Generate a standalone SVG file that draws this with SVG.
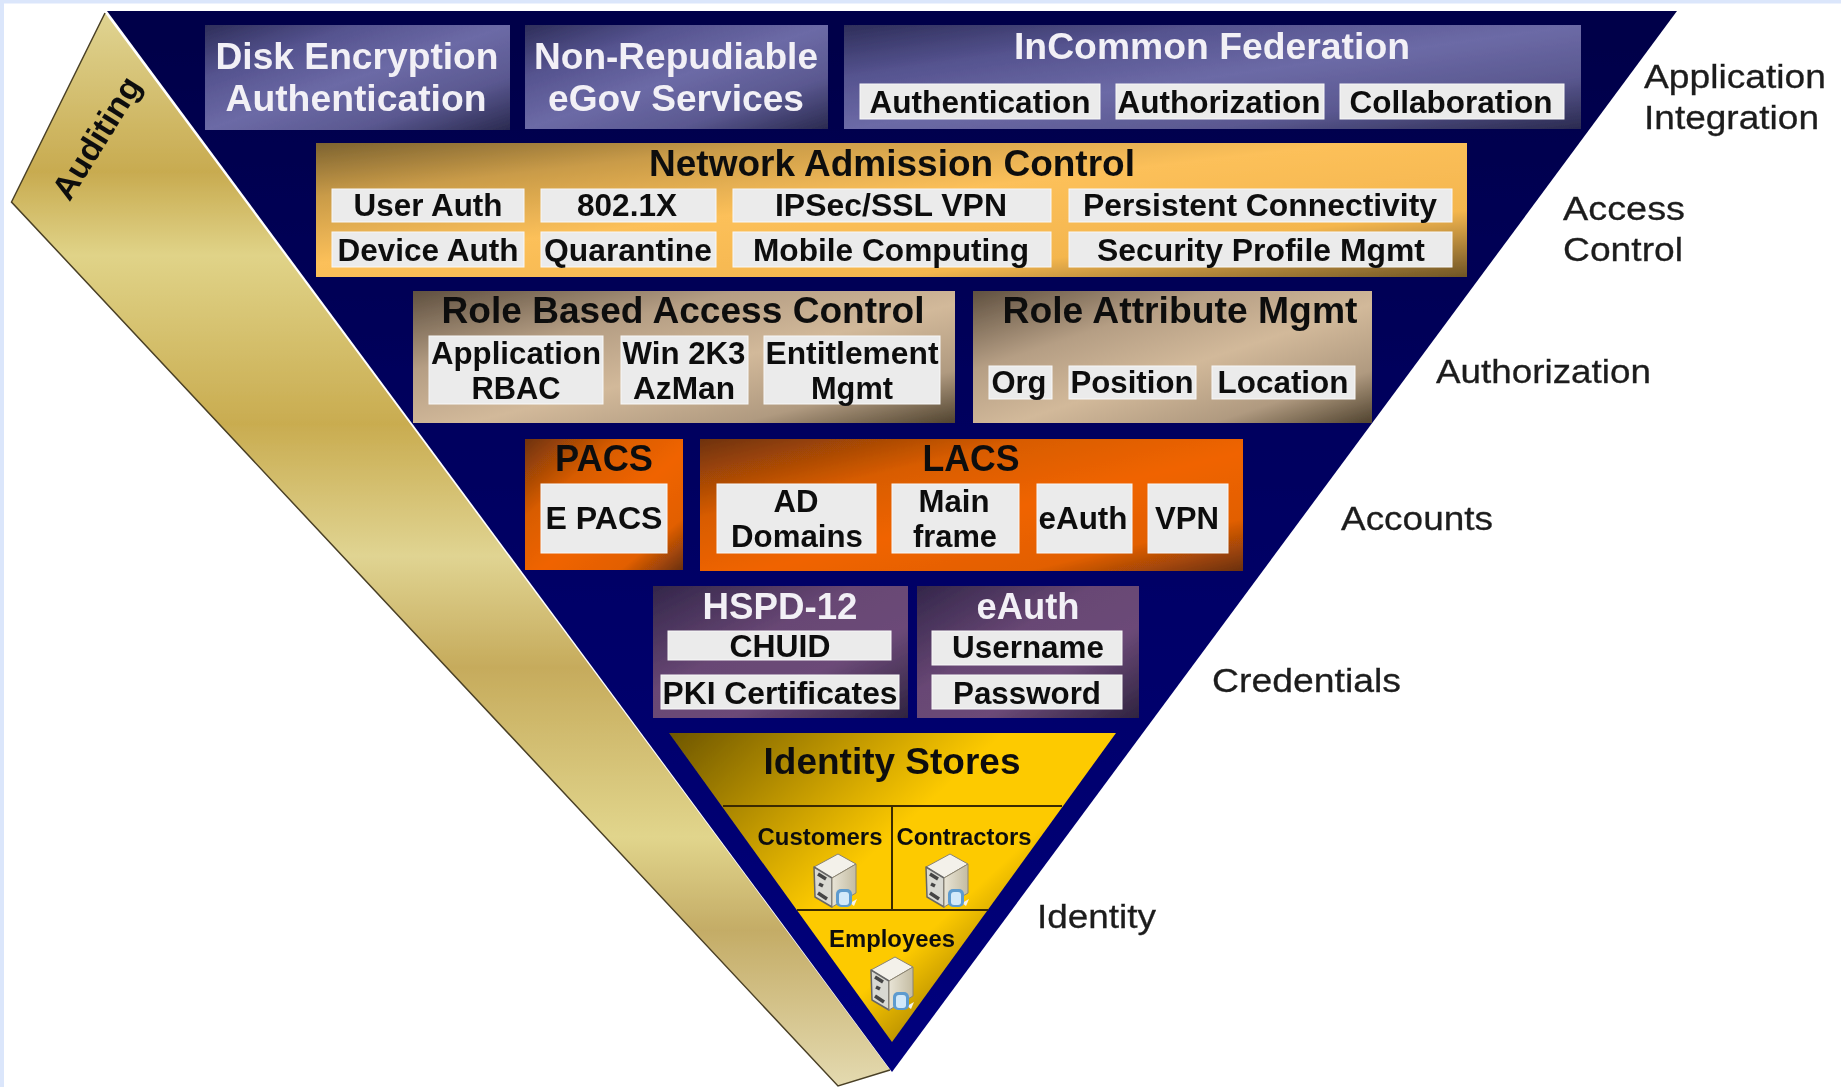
<svg xmlns="http://www.w3.org/2000/svg" width="1841" height="1087" viewBox="0 0 1841 1087">
<style>
text{font-family:"Liberation Sans",Arial,sans-serif;font-weight:700;text-anchor:middle;fill:#111}
.w{fill:#f2f0f6}
.h{font-size:36px}
.m{font-size:31px}
.f{font-size:23px}
.l{font-weight:400;font-size:34px;text-anchor:start;fill:#1c1c1c;stroke:#1c1c1c;stroke-width:.3px}
.s{fill:#ebebeb;stroke:#f8f8f8;stroke-width:1}
.rule{stroke:#3a2c00;stroke-width:2;fill:none}
</style>
<defs>
<linearGradient id="blue" x1="0" y1="0" x2="1" y2="1"><stop offset="0" stop-color="#2e2e5a"/><stop offset=".25" stop-color="#55538f"/><stop offset=".5" stop-color="#6c6aa6"/><stop offset=".75" stop-color="#5a5890"/><stop offset="1" stop-color="#2a2a50"/></linearGradient>
<linearGradient id="gold" x1="0" y1="0" x2="1" y2="1"><stop offset="0" stop-color="#7d6330"/><stop offset=".2" stop-color="#c99b48"/><stop offset=".45" stop-color="#fcc05a"/><stop offset=".75" stop-color="#f4b64e"/><stop offset="1" stop-color="#6f5526"/></linearGradient>
<linearGradient id="tan" x1="0" y1="0" x2="1" y2="1"><stop offset="0" stop-color="#5f5040"/><stop offset=".3" stop-color="#b59e84"/><stop offset=".55" stop-color="#d2b99a"/><stop offset=".8" stop-color="#b09a80"/><stop offset="1" stop-color="#50432f"/></linearGradient>
<linearGradient id="org" x1="0" y1="0" x2="1" y2="1"><stop offset="0" stop-color="#6e3209"/><stop offset=".3" stop-color="#d85c04"/><stop offset=".55" stop-color="#f06402"/><stop offset=".8" stop-color="#e25f04"/><stop offset="1" stop-color="#6a300a"/></linearGradient>
<linearGradient id="pur" x1="0" y1="0" x2="1" y2="1"><stop offset="0" stop-color="#33264a"/><stop offset=".4" stop-color="#684774"/><stop offset=".65" stop-color="#6c4a78"/><stop offset="1" stop-color="#2f2340"/></linearGradient>
<linearGradient id="yel" x1="0" y1="0" x2="1" y2=".75"><stop offset="0" stop-color="#6e5606"/><stop offset=".3" stop-color="#c89e04"/><stop offset=".48" stop-color="#fdca02"/><stop offset=".68" stop-color="#fdca02"/><stop offset=".8" stop-color="#c09604"/></linearGradient>
<linearGradient id="navy" x1="0" y1="0" x2="0" y2="1"><stop offset="0" stop-color="#000048"/><stop offset=".5" stop-color="#000064"/><stop offset="1" stop-color="#00007e"/></linearGradient>
<linearGradient id="band" gradientUnits="userSpaceOnUse" x1="0" y1="13" x2="0" y2="1086"><stop offset="0" stop-color="#e0d492"/><stop offset=".148" stop-color="#c8ab50"/><stop offset=".226" stop-color="#e0d388"/><stop offset=".383" stop-color="#c9ac50"/><stop offset=".506" stop-color="#e0d492"/><stop offset=".61" stop-color="#c6ab5c"/><stop offset=".768" stop-color="#e1d58c"/><stop offset=".855" stop-color="#c4ac66"/><stop offset="1" stop-color="#e4dab0"/></linearGradient>
<linearGradient id="beige" x1="0" y1="0" x2="1" y2="0"><stop offset="0" stop-color="#e8e4d6"/><stop offset="1" stop-color="#c4bca2"/></linearGradient>
<g id="srv">
<path d="M2 14 L26 1 L44 11 L20 25 Z" fill="#f3f1ea" stroke="#8a8474" stroke-width="1" stroke-linejoin="round"/>
<path d="M2 14 L20 25 V54 L3 44 Z" fill="#d9d9d2" stroke="#666" stroke-width="1.5" stroke-linejoin="round"/>
<path d="M20 25 L44 11 V40 L20 54 Z" fill="url(#beige)" stroke="#8a8474" stroke-width="1" stroke-linejoin="round"/>
<path d="M6 21 L14 26 M7 31 L11 33 M6 40 L15 46" stroke="#444" stroke-width="3.5" fill="none"/>
<path d="M38 50 L45 46 L42 53 Z" fill="#f6f4ea"/>
<rect x="24" y="36" width="16" height="18" rx="5" fill="#5d9bcf"/>
<rect x="27" y="39" width="10" height="13" rx="3" fill="#d2e9fa"/>
</g>
<filter id="soft" x="-2%" y="-2%" width="104%" height="104%"><feGaussianBlur stdDeviation=".6"/></filter>
</defs>
<rect width="1841" height="1087" fill="#fff"/>
<path d="M0 0H1841V3.5H4V1087H0Z" fill="#dbe6fb"/>
<g filter="url(#soft)">
<g id="pyramid"><path d="M107 11 H1677 L892 1072 Z" fill="url(#navy)"/></g>
<g id="auditing">
<path d="M105 13 L890 1070 L838 1086 L11.5 202 Z" fill="url(#band)"/>
<path d="M890 1070 L838 1086 L11.5 202 L105 13" fill="none" stroke="#4a4026" stroke-width="1.5"/>
<text transform="translate(106 144) rotate(-58)" font-size="33" textLength="138" lengthAdjust="spacingAndGlyphs">Auditing</text>
</g>
<g id="disk-encryption">
<rect x="205" y="25" width="305" height="105" fill="url(#blue)"/>
<text class="h w" x="357" y="69" textLength="283" lengthAdjust="spacingAndGlyphs">Disk Encryption</text>
<text class="h w" x="356" y="111" textLength="261" lengthAdjust="spacingAndGlyphs">Authentication</text>
</g>
<g id="non-repudiable">
<rect x="525" y="25" width="303" height="104" fill="url(#blue)"/>
<text class="h w" x="676" y="69" textLength="284" lengthAdjust="spacingAndGlyphs">Non-Repudiable</text>
<text class="h w" x="676" y="111" textLength="256" lengthAdjust="spacingAndGlyphs">eGov Services</text>
</g>
<g id="incommon">
<rect x="844" y="25" width="737" height="104" fill="url(#blue)"/>
<text class="h w" x="1212" y="59" textLength="396" lengthAdjust="spacingAndGlyphs">InCommon Federation</text>
<rect class="s" x="860" y="84" width="240" height="35"/><text class="m" x="980" y="113" textLength="221" lengthAdjust="spacingAndGlyphs">Authentication</text>
<rect class="s" x="1116" y="84" width="208" height="35"/><text class="m" x="1219" y="113" textLength="203" lengthAdjust="spacingAndGlyphs">Authorization</text>
<rect class="s" x="1340" y="84" width="224" height="35"/><text class="m" x="1451" y="113" textLength="203" lengthAdjust="spacingAndGlyphs">Collaboration</text>
</g>
<g id="nac">
<rect x="316" y="143" width="1151" height="134" fill="url(#gold)"/>
<text class="h" x="892" y="176" textLength="486" lengthAdjust="spacingAndGlyphs">Network Admission Control</text>
<rect class="s" x="332" y="189" width="192" height="33"/><text class="m" x="428" y="216" textLength="149" lengthAdjust="spacingAndGlyphs">User Auth</text>
<rect class="s" x="541" y="189" width="175" height="33"/><text class="m" x="627" y="216" textLength="100" lengthAdjust="spacingAndGlyphs">802.1X</text>
<rect class="s" x="733" y="189" width="318" height="33"/><text class="m" x="891" y="216" textLength="232" lengthAdjust="spacingAndGlyphs">IPSec/SSL VPN</text>
<rect class="s" x="1069" y="189" width="383" height="33"/><text class="m" x="1260" y="216" textLength="354" lengthAdjust="spacingAndGlyphs">Persistent Connectivity</text>
<rect class="s" x="332" y="232" width="192" height="35"/><text class="m" x="428" y="261" textLength="181" lengthAdjust="spacingAndGlyphs">Device Auth</text>
<rect class="s" x="541" y="232" width="175" height="35"/><text class="m" x="628" y="261" textLength="168" lengthAdjust="spacingAndGlyphs">Quarantine</text>
<rect class="s" x="733" y="232" width="318" height="35"/><text class="m" x="891" y="261" textLength="276" lengthAdjust="spacingAndGlyphs">Mobile Computing</text>
<rect class="s" x="1069" y="232" width="383" height="35"/><text class="m" x="1261" y="261" textLength="328" lengthAdjust="spacingAndGlyphs">Security Profile Mgmt</text>
</g>
<g id="rbac">
<rect x="413" y="291" width="542" height="132" fill="url(#tan)"/>
<text class="h" x="683" y="323" textLength="483" lengthAdjust="spacingAndGlyphs">Role Based Access Control</text>
<rect class="s" x="429" y="336" width="174" height="68"/><text class="m" x="516" y="364" textLength="170" lengthAdjust="spacingAndGlyphs">Application</text><text class="m" x="516" y="399" textLength="89" lengthAdjust="spacingAndGlyphs">RBAC</text>
<rect class="s" x="621" y="336" width="127" height="68"/><text class="m" x="684" y="364" textLength="123" lengthAdjust="spacingAndGlyphs">Win 2K3</text><text class="m" x="684" y="399" textLength="102" lengthAdjust="spacingAndGlyphs">AzMan</text>
<rect class="s" x="764" y="336" width="176" height="68"/><text class="m" x="852" y="364" textLength="173" lengthAdjust="spacingAndGlyphs">Entitlement</text><text class="m" x="852" y="399" textLength="82" lengthAdjust="spacingAndGlyphs">Mgmt</text>
</g>
<g id="role-attribute">
<rect x="973" y="291" width="399" height="132" fill="url(#tan)"/>
<text class="h" x="1180" y="323" textLength="355" lengthAdjust="spacingAndGlyphs">Role Attribute Mgmt</text>
<rect class="s" x="989" y="366" width="63" height="33"/><text class="m" x="1019" y="393" textLength="55" lengthAdjust="spacingAndGlyphs">Org</text>
<rect class="s" x="1069" y="366" width="127" height="33"/><text class="m" x="1132" y="393" textLength="123" lengthAdjust="spacingAndGlyphs">Position</text>
<rect class="s" x="1212" y="366" width="143" height="33"/><text class="m" x="1283" y="393" textLength="131" lengthAdjust="spacingAndGlyphs">Location</text>
</g>
<g id="pacs">
<rect x="525" y="439" width="158" height="131" fill="url(#org)"/>
<text class="h" x="604" y="471" textLength="98" lengthAdjust="spacingAndGlyphs">PACS</text>
<rect class="s" x="541" y="484" width="126" height="69"/><text class="m" x="604" y="529" textLength="117" lengthAdjust="spacingAndGlyphs">E PACS</text>
</g>
<g id="lacs">
<rect x="700" y="439" width="543" height="132" fill="url(#org)"/>
<text class="h" x="971" y="471" textLength="97" lengthAdjust="spacingAndGlyphs">LACS</text>
<rect class="s" x="717" y="484" width="159" height="69"/><text class="m" x="796" y="512" textLength="45" lengthAdjust="spacingAndGlyphs">AD</text><text class="m" x="797" y="547" textLength="132" lengthAdjust="spacingAndGlyphs">Domains</text>
<rect class="s" x="892" y="484" width="127" height="69"/><text class="m" x="954" y="512" textLength="71" lengthAdjust="spacingAndGlyphs">Main</text><text class="m" x="955" y="547" textLength="84" lengthAdjust="spacingAndGlyphs">frame</text>
<rect class="s" x="1037" y="484" width="95" height="69"/><text class="m" x="1083" y="529" textLength="89" lengthAdjust="spacingAndGlyphs">eAuth</text>
<rect class="s" x="1148" y="484" width="80" height="69"/><text class="m" x="1187" y="529" textLength="64" lengthAdjust="spacingAndGlyphs">VPN</text>
</g>
<g id="hspd12">
<rect x="653" y="586" width="255" height="132" fill="url(#pur)"/>
<text class="h w" x="780" y="619" textLength="155" lengthAdjust="spacingAndGlyphs">HSPD-12</text>
<rect class="s" x="668" y="631" width="223" height="29"/><text class="m" x="780" y="657" textLength="101" lengthAdjust="spacingAndGlyphs">CHUID</text>
<rect class="s" x="661" y="675" width="238" height="34"/><text class="m" x="780" y="704" textLength="235" lengthAdjust="spacingAndGlyphs">PKI Certificates</text>
</g>
<g id="eauth-cred">
<rect x="917" y="586" width="222" height="132" fill="url(#pur)"/>
<text class="h w" x="1028" y="619" textLength="103" lengthAdjust="spacingAndGlyphs">eAuth</text>
<rect class="s" x="932" y="631" width="190" height="34"/><text class="m" x="1028" y="658" textLength="152" lengthAdjust="spacingAndGlyphs">Username</text>
<rect class="s" x="932" y="675" width="190" height="34"/><text class="m" x="1027" y="704" textLength="148" lengthAdjust="spacingAndGlyphs">Password</text>
</g>
<g id="identity-stores">
<path d="M669 733 H1116 L892 1042 Z" fill="url(#yel)"/>
<path class="rule" d="M723 806 H1062 M892 806 V910 M797 910 H988"/>
<text class="h" x="892" y="774" textLength="257" lengthAdjust="spacingAndGlyphs">Identity Stores</text>
</g>
<g id="customers"><text class="f" x="820" y="845" textLength="125" lengthAdjust="spacingAndGlyphs">Customers</text><use href="#srv" x="812" y="853"/></g>
<g id="contractors"><text class="f" x="964" y="845" textLength="135" lengthAdjust="spacingAndGlyphs">Contractors</text><use href="#srv" x="924" y="853"/></g>
<g id="employees"><text class="f" x="892" y="947" textLength="126" lengthAdjust="spacingAndGlyphs">Employees</text><use href="#srv" x="869" y="956"/></g>
<g id="layer-labels">
<text class="l" x="1644" y="88" textLength="182" lengthAdjust="spacingAndGlyphs">Application</text>
<text class="l" x="1644" y="129" textLength="175" lengthAdjust="spacingAndGlyphs">Integration</text>
<text class="l" x="1563" y="220" textLength="122" lengthAdjust="spacingAndGlyphs">Access</text>
<text class="l" x="1563" y="261" textLength="120" lengthAdjust="spacingAndGlyphs">Control</text>
<text class="l" x="1436" y="383" textLength="215" lengthAdjust="spacingAndGlyphs">Authorization</text>
<text class="l" x="1341" y="530" textLength="152" lengthAdjust="spacingAndGlyphs">Accounts</text>
<text class="l" x="1212" y="692" textLength="189" lengthAdjust="spacingAndGlyphs">Credentials</text>
<text class="l" x="1037" y="928" textLength="119" lengthAdjust="spacingAndGlyphs">Identity</text>
</g>
</g>
</svg>
